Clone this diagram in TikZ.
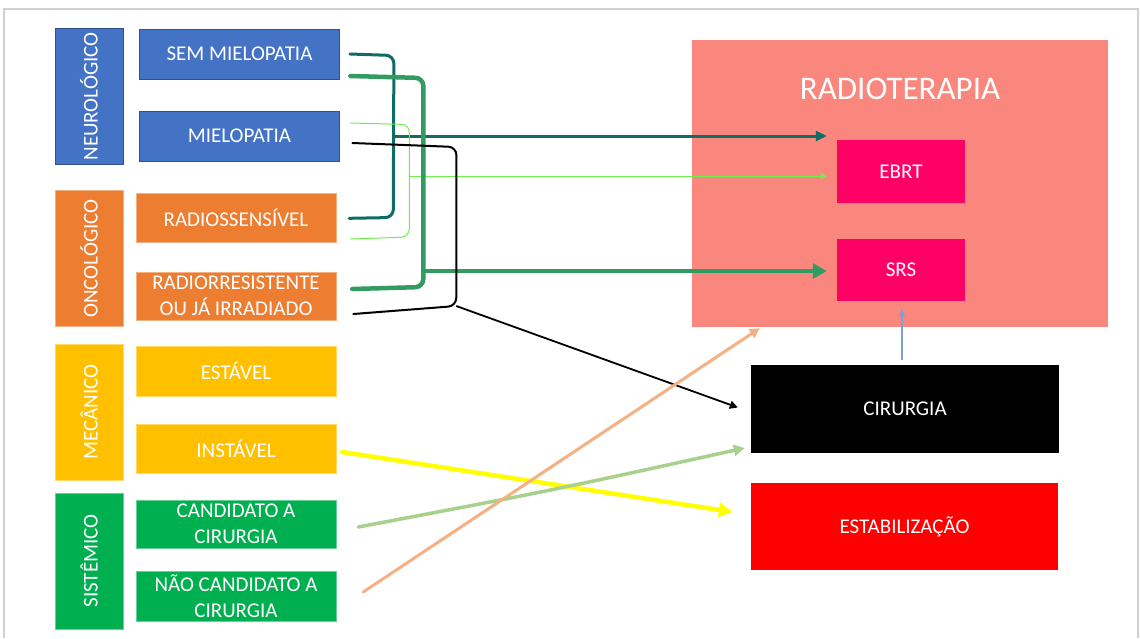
\documentclass[tikz,border=0pt]{standalone}
\usepackage{fontspec}
\setmainfont{Carlito}
\usetikzlibrary{arrows.meta,calc}
\definecolor{cblue}{HTML}{4472C4}
\definecolor{cblueb}{HTML}{2F528F}
\definecolor{corange}{HTML}{ED7D31}
\definecolor{cgold}{HTML}{FFC000}
\definecolor{cgreen}{HTML}{00B050}
\definecolor{csalmon}{HTML}{FA877D}
\definecolor{cpink}{HTML}{FF0066}
\definecolor{cred}{HTML}{FF0000}
\definecolor{lteal}{HTML}{0E6B66}
\definecolor{lgreen}{HTML}{319B62}
\definecolor{llime}{HTML}{6EF04A}
\definecolor{lyellow}{HTML}{FFFF00}
\definecolor{lsage}{HTML}{A9D18E}
\definecolor{lpeach}{HTML}{F4B183}
\definecolor{lblue}{HTML}{7F9FDB}
\definecolor{frame}{HTML}{D0D0D0}
\begin{document}
\begin{tikzpicture}[x=1pt,y=-1pt,
  box/.style={rectangle, inner sep=0pt, text=white, align=center,
    font=\fontsize{21}{26.5}\selectfont},
  catbox/.style={box, rotate=90, minimum width=136pt, minimum height=68pt},
  itembox/.style={box, minimum width=200pt},
  bluebox/.style={fill=cblue, draw=cblueb, line width=0.8pt},
  orangebox/.style={fill=corange, draw=corange!60!white, line width=0.5pt},
  goldbox/.style={fill=cgold, draw=cgold!60!white, line width=0.5pt},
  greenbox/.style={fill=cgreen, draw=cgreen!60!white, line width=0.5pt},
  bracket/.style={rounded corners=8pt, line cap=round},
]
\useasboundingbox (0,0) rectangle (1140,638);
\fill[white] (0,0) rectangle (1140,638);
\draw[frame, line width=2pt] (4,638) -- (4,8.5) -- (1138,8.5) -- (1138,638);

% categories
\node[catbox, bluebox]   (neuro) at (89,96.5)  {NEUROLÓGICO};
\node[catbox, orangebox] (onco)  at (89,258.5) {ONCOLÓGICO};
\node[catbox, goldbox]   (mec)   at (89,412)   {MECÂNICO};
\node[catbox, greenbox]  (sist)  at (89,561)   {SISTÊMICO};

% items
\node[itembox, bluebox, minimum height=50pt]   (sem)  at (239.5,54)  {SEM MIELOPATIA};
\node[itembox, bluebox, minimum height=50pt]   (miel) at (239.5,136) {MIELOPATIA};
\node[itembox, orangebox, minimum height=49pt] (rs)   at (236,217.5) {RADIOSSENSÍVEL};
\node[itembox, orangebox, minimum height=48pt] (rr)   at (236,296)   {RADIORRESISTENTE\\OU JÁ IRRADIADO};
\node[itembox, goldbox, minimum height=50pt]   (est)  at (236,371)   {ESTÁVEL};
\node[itembox, goldbox, minimum height=49pt]   (inst) at (236,448.5) {INSTÁVEL};
\node[itembox, greenbox, minimum height=48pt]  (cand) at (236,524)   {CANDIDATO A\\CIRURGIA};
\node[itembox, greenbox, minimum height=50pt]  (nao)  at (236,596)   {NÃO CANDIDATO A\\CIRURGIA};

% right side
\node[box, fill=csalmon, minimum width=416pt, minimum height=287pt] (radio) at (900,183.5) {};
\node[box, font=\fontsize{33}{37}\selectfont] (radiot) at (900,89) {RADIOTERAPIA};
\node[box, fill=cpink, minimum width=128pt, minimum height=63pt] (ebrt) at (901,171.5) {EBRT};
\node[box, fill=cpink, minimum width=128pt, minimum height=62pt] (srs)  at (901,270)   {SRS};
\node[box, fill=black, minimum width=308pt, minimum height=88pt] (cir)  at (905,409)   {CIRURGIA};
\node[box, fill=cred, minimum width=307pt, minimum height=87pt]  (estab) at (904.5,526.5) {ESTABILIZAÇÃO};

% teal bracket: SEM MIELOPATIA + RADIOSSENSIVEL -> EBRT
\draw[lteal, line width=3pt, bracket]
  ($(sem.east)+(10,0)$) -- ($(sem.east)+(54,1.5)$) -- ($(rs.east)+(57,0)$) -- ($(rs.east)+(13,0.8)$);
\coordinate (tj) at ($(sem.east)+(54,82)$);
\coordinate (te) at ($(ebrt.west)+(-10,-35.5)$);
\draw[lteal, line width=3pt, -{Triangle[length=11pt,width=10pt]}] (tj) -- (te);

% light lime bracket: MIELOPATIA + RADIOSSENSIVEL -> EBRT
\draw[llime, line width=1pt, bracket]
  ($(miel.east)+(10.5,-13)$) -- ($(miel.east)+(69.5,-11.5)$) -- ($(rs.east)+(73,19.5)$) -- ($(rs.east)+(14,21.5)$);
\coordinate (lj) at ($(rs.east)+(73,-41.5)$);
\coordinate (le) at ($(ebrt.west)+(-10,4.5)$);
\draw[llime, line width=1pt, -{Triangle[length=6pt,width=6pt]}] (lj) -- (le);

% green bracket: SEM MIELOPATIA + RADIORRESISTENTE -> SRS
\draw[lgreen, line width=4.5pt, bracket]
  ($(sem.east)+(10.5,22)$) -- ($(sem.east)+(83.5,24)$) -- ($(rr.east)+(87,-9)$) -- ($(rr.east)+(16,-7)$);
\coordinate (gj) at ($(rr.east)+(87,-25)$);
\coordinate (ge) at ($(srs.west)+(-10,1)$);
\draw[lgreen, line width=4.5pt, -{Triangle[length=14pt,width=15pt]}] (gj) -- (ge);

% black bracket: MIELOPATIA + RADIORRESISTENTE -> CIRURGIA
\draw[black, line width=2pt, bracket]
  ($(miel.east)+(12.5,7)$) -- ($(miel.east)+(116.5,11)$) -- ($(rr.east)+(120,10)$) -- ($(rr.east)+(17,18)$);
\coordinate (bj) at ($(rr.east)+(120,10)$);
\coordinate (be) at ($(cir.west)+(-13,-1.5)$);
\draw[black, line width=1.8pt, -{Triangle[length=8pt,width=8pt]}] (bj) -- (be);

% yellow: INSTAVEL -> ESTABILIZACAO
\coordinate (ys) at ($(inst.east)+(6,3.5)$);
\coordinate (ye) at ($(estab.west)+(-18,-14.5)$);
\draw[lyellow, line width=4.5pt, line cap=round, -{Triangle[length=14pt,width=14pt]}] (ys) -- (ye);

% sage: CANDIDATO -> CIRURGIA
\coordinate (ss) at ($(cand.east)+(22,3)$);
\coordinate (se) at ($(cir.west)+(-6,39)$);
\draw[lsage, line width=3.5pt, line cap=round, -{Triangle[length=11pt,width=11pt]}] (ss) .. controls ($(ss)!0.5!(se)+(0,3)$) .. (se);

% peach: NAO CANDIDATO -> RADIOTERAPIA
\coordinate (ps) at ($(nao.east)+(27,-4)$);
\coordinate (pe) at ($(radio.south west)+(68,1)$);
\draw[lpeach, line width=3pt, line cap=round, -{Triangle[length=10pt,width=10pt]}] (ps) -- (pe);

% blue: CIRURGIA -> SRS
\coordinate (us) at ($(cir.north)+(-3,-5)$);
\coordinate (ue) at ($(srs.south)+(1,8)$);
\draw[lblue, line width=1.2pt, -{Triangle[length=7pt,width=6pt]}] (us) -- (ue);
\end{tikzpicture}
\end{document}
